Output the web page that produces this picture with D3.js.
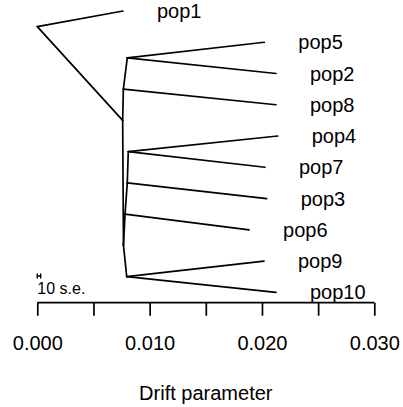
<!DOCTYPE html>
<html><head><meta charset="utf-8">
<script src="https://cdn.jsdelivr.net/npm/d3@7"></script>
<style>
html,body{margin:0;padding:0;background:#fff;}
svg{display:block;font-family:"Liberation Sans",Arial,Helvetica,sans-serif;}
</style></head>
<body>
<svg id="chart" width="403" height="407"></svg>
<script>
// Tips (populations): drift coordinate and vertical order
const tipNames  = ["pop1","pop5","pop2","pop8","pop4","pop7","pop3","pop6","pop9","pop10"];
const tipDrift  = [0.00763,0.02021,0.02125,0.02125,0.0214,0.02027,0.02042,0.01885,0.02018,0.02125];
const tipOrder  = [0,1,2,3,4,5,6,7,8,9];
// Internal nodes
const nodeNames = ["root","N1","N2","N3","N9","N8","N6","N7","N5"];
const nodeDrift = [0.0,0.0076,0.00766,0.00801,0.0081,0.00801,0.00781,0.00767,0.00796];
const nodeOrder = [0.5,3.5,2.5,1.5,4.5,5.5,6.5,7.5,8.5];
// Edges: parent -> child
const edgeParent = ["root","root","N1","N1","N2","N2","N3","N3","N7","N7","N6","N6","N8","N8","N9","N9","N5","N5"];
const edgeChild  = ["pop1","N1","N2","N7","N3","pop8","pop5","pop2","N6","N5","N8","pop6","N9","pop3","pop4","pop7","pop9","pop10"];
// Axis
const xTicks = [0,0.005,0.010,0.015,0.020,0.025,0.030];
const xTickLabels = ["0.000","","0.010","","0.020","","0.030"];
const xTitle = "Drift parameter";
const se = 0.00003;
const seLabel = "10 s.e.";

const svg = d3.select("#chart");
const x = d3.scaleLinear().domain([0,0.03]).range([37.3,374.3]);
const y = d3.scaleLinear().domain([0,9]).range([11,292.3]);

const pos = {};
tipNames.forEach((n,i)=>pos[n]={x:x(tipDrift[i]),y:y(tipOrder[i])});
nodeNames.forEach((n,i)=>pos[n]={x:x(nodeDrift[i]),y:y(nodeOrder[i])});

const sw = 1.7;
svg.append("g").selectAll("line").data(edgeParent.map((p,i)=>[p,edgeChild[i]])).join("line")
  .attr("x1",d=>pos[d[0]].x).attr("y1",d=>pos[d[0]].y)
  .attr("x2",d=>pos[d[1]].x).attr("y2",d=>pos[d[1]].y)
  .attr("stroke","#000").attr("stroke-width",sw).attr("stroke-linecap","round");

svg.append("g").selectAll("text").data(tipNames).join("text")
  .attr("x",d=>pos[d].x+34).attr("y",d=>pos[d].y).attr("dy","0.35em")
  .attr("font-size",20).attr("fill","#000").text(d=>d);

// axis
const axisY = 302.7;
const axis = d3.axisBottom(x).tickValues(xTicks).tickFormat((d,i)=>xTickLabels[i]).tickSize(13).tickPadding(20);
const ga = svg.append("g").attr("transform",`translate(0,${axisY})`).call(axis);
ga.select(".domain").attr("d",`M${x(0)},0H${x(0.03)}`).attr("stroke","#000").attr("stroke-width",sw);
ga.selectAll(".tick line").attr("stroke","#000").attr("stroke-width",sw);
ga.selectAll(".tick text").attr("font-size",20).attr("font-family","Liberation Sans, Arial, sans-serif").attr("fill","#000").attr("dy","0.71em");

svg.append("text").attr("x",(x(0)+x(0.03))/2).attr("y",400).attr("text-anchor","middle")
  .attr("font-size",20).attr("fill","#000").text(xTitle);

// scale bar
const sbY = 276;
const x0 = x(0), x1 = x(10*se);
svg.append("path").attr("d",`M${x0},${sbY}H${x1}M${x0},${sbY-2.5}V${sbY+2.5}M${x1},${sbY-2.5}V${sbY+2.5}`)
  .attr("stroke","#000").attr("stroke-width",1.4).attr("fill","none");
svg.append("text").attr("x",x0).attr("y",294).attr("font-size",16).attr("fill","#000").text(seLabel);
</script>
</body></html>
